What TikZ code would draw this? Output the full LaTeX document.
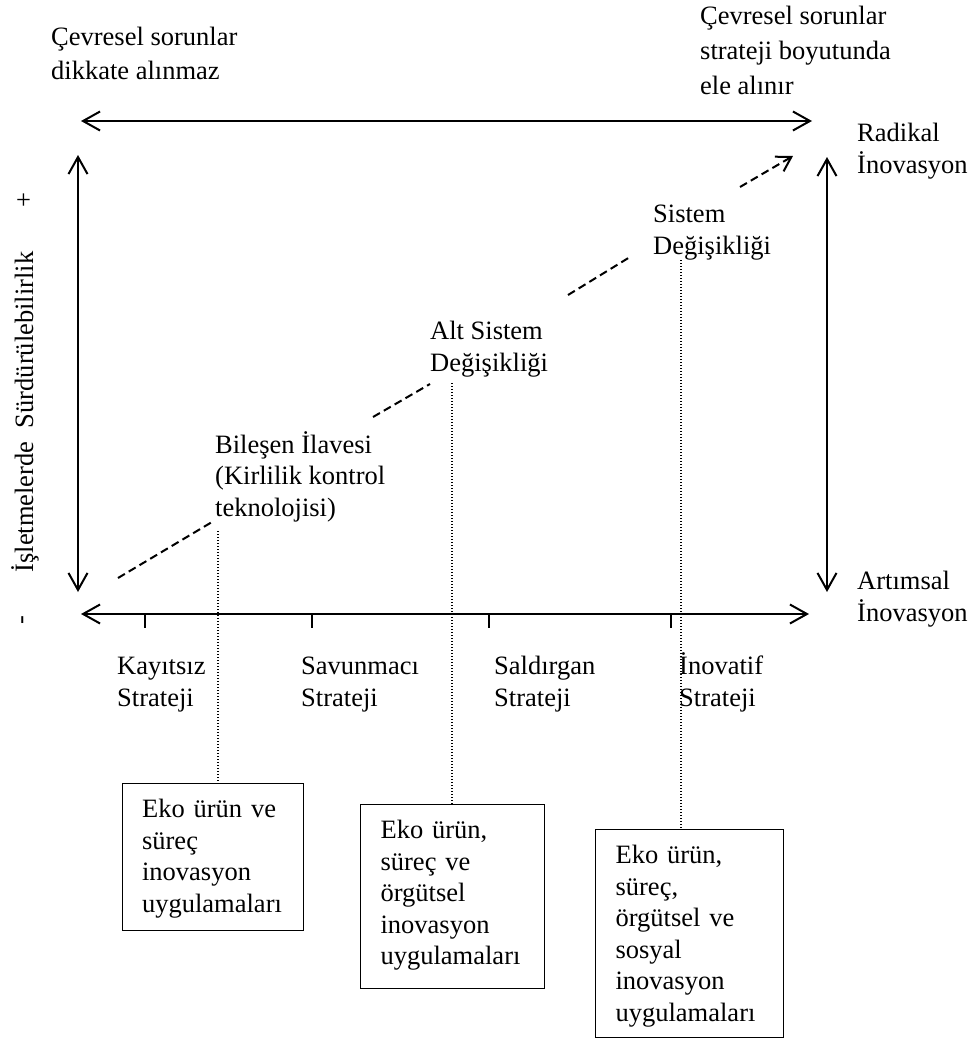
\documentclass[tikz,border=0pt]{standalone}
\usepackage{fontspec}
\setmainfont{Liberation Serif}
\usetikzlibrary{arrows.meta}
\tikzset{
  lbl/.style={anchor=base west, align=left, inner sep=0pt, font=\fontsize{26.5}{31.5}\selectfont},
  toplbl/.style={lbl, font=\fontsize{26.5}{35}\selectfont},
  sidelbl/.style={anchor=center, inner sep=0pt, rotate=90, font=\fontsize{26.5}{31.5}\selectfont},
  axis/.style={line width=2pt, {Straight Barb[length=17pt,width=19pt]}-{Straight Barb[length=17pt,width=19pt]}},
  trend/.style={line width=2pt, dash pattern=on 8pt off 4.5pt},
  guide/.style={line width=1.3pt, dash pattern=on 1.4pt off 1.6pt},
  ecobox/.style={draw, line width=1.2pt, anchor=north west, align=left, inner xsep=20pt, inner ysep=0pt, text height=34pt, font=\fontsize{26.5}{31.5}\selectfont}
}
\begin{document}
\begin{tikzpicture}[x=1pt,y=-1pt]
                \useasboundingbox (0,0) rectangle (973,1049);
                \coordinate (TL) at (81,121);
                \coordinate (TR) at (812,121);
                \coordinate (BL) at (81,614);
                \coordinate (BR) at (809,614);
                \coordinate (LT) at (78,155);
                \coordinate (LB) at (78,592);
                \coordinate (RT) at (827,157);
                \coordinate (RB) at (827,592);
                \draw[axis] (TL) -- (TR);
                \draw[axis] (BL) -- (BR);
                \draw[axis] (LT) -- (LB);
                \draw[axis] (RT) -- (RB);
                \draw[line width=1.3pt] (145,614) -- (145,628);
                \draw[line width=1.3pt] (312,614) -- (312,628);
                \draw[line width=1.3pt] (489,614) -- (489,628);
                \draw[line width=1.3pt] (671,614) -- (671,628);
                \node[toplbl] (ignored) at (51,80) {Çevresel sorunlar\\dikkate alınmaz};
                \node[toplbl] (handled) at (700,94) {Çevresel sorunlar\\strateji boyutunda\\ele alınır};
                \node[lbl] (radical) at (857,173) {Radikal\\İnovasyon};
                \node[lbl] (incremental) at (857,621) {Artımsal\\İnovasyon};
                \node[sidelbl] (plus) at (25,200) {+};
                \node[sidelbl] (minus) at (25,620) {-};
                \node[sidelbl] (sustain) at (25,412) {İşletmelerde\ \ Sürdürülebilirlik};
                \node[lbl] (component) at (215,516) {Bileşen İlavesi\\(Kirlilik kontrol\\teknolojisi)};
                \node[lbl] (subsystem) at (430,371) {Alt Sistem\\Değişikliği};
                \node[lbl] (system) at (653,254) {Sistem\\Değişikliği};
                \node[lbl] (indifferent) at (117,706) {Kayıtsız\\Strateji};
                \node[lbl] (defensive) at (301,706) {Savunmacı\\Strateji};
                \node[lbl] (offensive) at (494,706) {Saldırgan\\Strateji};
                \node[lbl] (innovative) at (679,706) {İnovatif\\Strateji};
                \coordinate (T1) at (118,578);
                \coordinate (T2) at (212,522);
                \coordinate (T3) at (373,417);
                \coordinate (T4) at (430,384);
                \coordinate (T5) at (568,295);
                \coordinate (T6) at (630,257);
                \coordinate (T7) at (740,187);
                \coordinate (T8) at (793,156);
                \draw[trend] (T1) -- (T2);
                \draw[trend] (T3) -- (T4);
                \draw[trend] (T5) -- (T6);
                \draw[trend, -{Straight Barb[length=14pt,width=17pt]}] (T7) -- (T8);
                \node[ecobox, text width=141pt, text depth=113pt] (box1) at (121.5,783) {Eko ürün ve\\süreç\\inovasyon\\uygulamaları};
                \node[ecobox, text width=144pt, text depth=150pt] (box2) at (360,804) {Eko ürün,\\süreç ve\\örgütsel\\inovasyon\\uygulamaları};
                \node[ecobox, text width=148pt, text depth=174pt] (box3) at (595,829) {Eko ürün,\\süreç,\\örgütsel ve\\sosyal\\inovasyon\\uygulamaları};
                \coordinate (G1) at (218,531);
                \coordinate (G2) at (452,383);
                \coordinate (G3) at (681,260);
                \draw[guide] (G1) -- (G1 |- box1.north);
                \draw[guide] (G2) -- (G2 |- box2.north);
                \draw[guide] (G3) -- (G3 |- box3.north);
            \end{tikzpicture}
\end{document}
